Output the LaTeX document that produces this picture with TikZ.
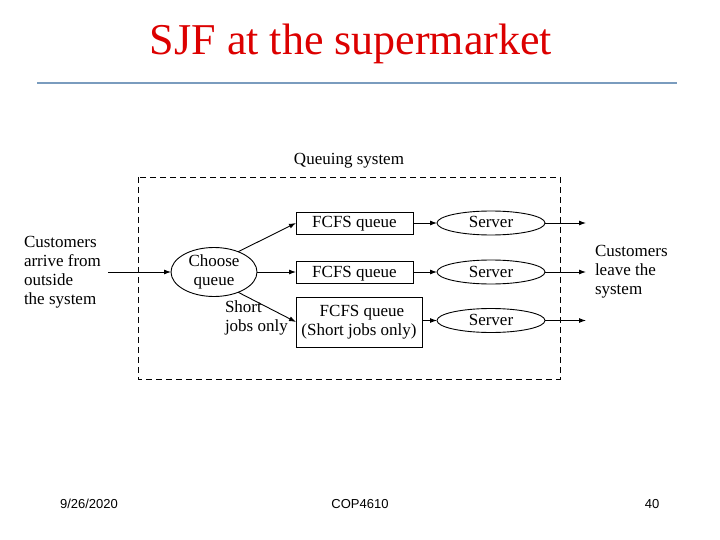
\documentclass[tikz,border=0pt]{standalone}
\usepackage{fontspec}
\setmainfont{Liberation Serif}
\newfontfamily\footfont{Liberation Sans}
\usetikzlibrary{shapes.geometric,arrows.meta}
\definecolor{rulecol}{RGB}{122,156,190}
\definecolor{titlered}{RGB}{220,0,0}
\begin{document}
\begin{tikzpicture}[x=1pt,y=-1pt,
  every node/.style={inner sep=0pt,outer sep=0pt},
  lbl/.style={font=\fontsize{17}{19}\selectfont,align=left},
  qbox/.style={draw,line width=0.9pt,minimum width=117pt,minimum height=22pt,font=\fontsize{17}{19}\selectfont,text height=12.5pt,text depth=2.5pt},
  srv/.style={draw,ellipse,line width=0.9pt,minimum width=108pt,minimum height=24pt,font=\fontsize{17}{19}\selectfont,text height=12.5pt,text depth=2.5pt},
  arr/.style={line width=0.9pt,-{Latex[length=7pt,width=5pt]}},
  foot/.style={font=\footfont\fontsize{13}{15}\selectfont}]
\useasboundingbox (0,0) rectangle (720,540);
% title
\node[font=\fontsize{44}{48}\selectfont,text=titlered,anchor=base] (title) at (351,55) {SJF at the supermarket};
\draw[rulecol,line width=2pt] (37,83) coordinate (r1) -- (677,83) coordinate (r2);
% queuing system box
\node[lbl,anchor=base] (qs) at (349,165) {Queuing system};
\draw[dash pattern=on 6pt off 4pt,line width=0.9pt] (138,177) rectangle (560,379);
% nodes
\node[draw,ellipse,line width=0.9pt,minimum width=86pt,minimum height=49pt,lbl,align=center] (choose) at (214,272) {Choose\\queue};
\node[qbox] (q1) at (354.5,223) {FCFS queue};
\node[qbox] (q2) at (354.5,272) {FCFS queue};
\node[draw,line width=0.9pt,minimum width=126pt,minimum height=50pt,lbl,align=center] (q3) at (359,322) {\hspace*{6pt}FCFS queue\\(Short jobs only)};
\node[srv] (s1) at (491,223) {Server};
\node[srv] (s2) at (491,272) {Server};
\node[srv] (s3) at (491,320.5) {Server};
\coordinate (o1) at (586,223);
\coordinate (o2) at (586,272);
\coordinate (o3) at (586,320.5);
\coordinate (in) at (108,272);
% labels
\node[lbl,anchor=west] (cin) at (24,272) {Customers\\arrive from\\outside\\the system};
\node[lbl,anchor=west] (cout) at (595,272) {Customers\\leave the\\system};
\node[lbl,anchor=west] (short) at (225,318) {Short\\jobs only};
% connectors
\draw[arr] (in) -- (choose.west);
\draw[arr] (choose.40) -- (q1.west);
\draw[arr] (choose.east) -- (q2.west);
\draw[arr] (choose.-40) -- (q3.west);
\draw[arr] (q1.east) -- (s1.west);
\draw[arr] (q2.east) -- (s2.west);
\draw[arr] (q3.east |- s3.west) -- (s3.west);
\draw[arr] (s1.east) -- (o1);
\draw[arr] (s2.east) -- (o2);
\draw[arr] (s3.east) -- (o3);
% footer
\node[foot,anchor=base] (f1) at (89,508) {9/26/2020};
\node[foot,anchor=base] (f2) at (360,508) {COP4610};
\node[foot,anchor=base] (f3) at (652,508) {40};
\end{tikzpicture}
\end{document}
